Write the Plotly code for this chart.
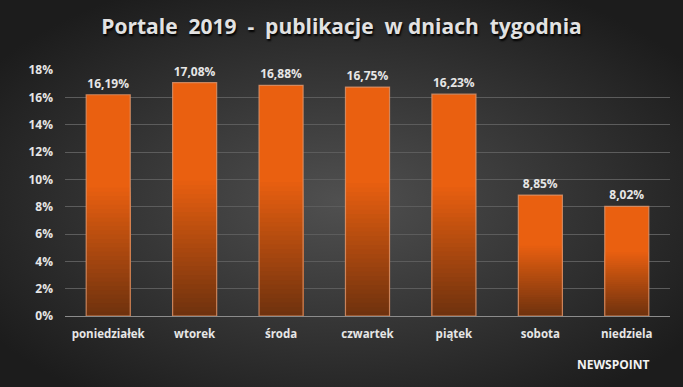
import plotly.graph_objects as go

days = ["poniedziałek", "wtorek", "środa", "czwartek", "piątek", "sobota", "niedziela"]
shares = [16.19, 17.08, 16.88, 16.75, 16.23, 8.85, 8.02]
labels = ["16,19%", "17,08%", "16,88%", "16,75%", "16,23%", "8,85%", "8,02%"]
yticks = [0, 2, 4, 6, 8, 10, 12, 14, 16, 18]
yticklabels = [f"{t}%" for t in yticks]

TOP = (234, 96, 16)
BOT = (112, 50, 14)

def mix(a, b, t):
    return "rgb(%d,%d,%d)" % tuple(round(a[i] + (b[i] - a[i]) * t) for i in range(3))

fig = go.Figure()
fig.add_trace(go.Bar(x=days, y=shares, marker=dict(color=mix(TOP, BOT, 0), line=dict(width=0)),
                     hoverinfo="skip", showlegend=False))
N = 30
START = 0.6
for i in range(1, N + 1):
    frac = START * (1 - i / (N + 1))
    t = i / N
    fig.add_trace(go.Bar(x=days, y=[v * frac for v in shares],
                         marker=dict(color=mix(TOP, BOT, t), line=dict(width=0)),
                         hoverinfo="skip", showlegend=False))
fig.add_trace(go.Bar(x=days, y=shares, text=labels, textposition="outside",
                     textfont=dict(color="#e6e6e6", size=12, family="Open Sans", weight="bold"),
                     cliponaxis=False,
                     marker=dict(color="rgba(0,0,0,0)", line=dict(color="rgba(220,150,110,0.8)", width=1.2)),
                     showlegend=False))

bg_svg = ("data:image/svg+xml;utf8,<svg xmlns='http://www.w3.org/2000/svg' width='683' height='387'>"
          "<defs><radialGradient id='g' cx='50%25' cy='52%25' r='62%25'>"
          "<stop offset='0' stop-color='%23505050'/><stop offset='1' stop-color='%231c1c1c'/>"
          "</radialGradient></defs><rect width='683' height='387' fill='url(%23g)'/></svg>")

fig.update_layout(
    width=683, height=387,
    margin=dict(l=65, r=13, t=70, b=71, autoexpand=False),
    paper_bgcolor="#2a2a2a", plot_bgcolor="rgba(0,0,0,0)",
    barmode="overlay", bargap=0.49,
    title=dict(text="Portale  2019  -  publikacje  w dniach  tygodnia", x=0.5, xanchor="center",
               y=1 - 27 / 387, yanchor="middle", yref="container",
               font=dict(family="Open Sans", size=21, color="#e2e2e2", weight="bold",
                         shadow="1px 2px 2px #000")),
    images=[dict(source=bg_svg, xref="paper", yref="paper",
                 x=-65/605, y=1 + 70/246, sizex=683/605, sizey=387/246,
                 xanchor="left", yanchor="top", layer="below", sizing="stretch")],
    font=dict(family="Open Sans", color="#e6e6e6"),
)
fig.update_xaxes(showgrid=False, showline=True, linecolor="#8c8c8c", linewidth=1, automargin=False,
                 tickfont=dict(size=11.5, color="#e6e6e6", weight="bold"), ticks="",
                 ticklabelstandoff=7)
fig.update_yaxes(range=[0, 18], tickvals=yticks, ticktext=yticklabels, showgrid=True, automargin=False,
                 gridcolor="#5c5c5c", gridwidth=1, zeroline=False, showline=False,
                 tickfont=dict(size=12, color="#e6e6e6", weight="bold"), ticks="",
                 ticklabelstandoff=11)
fig.add_annotation(text="NEWSPOINT", xref="paper", yref="paper", x=(652 - 65) / 605, y=-(364 - 316) / 246,
                   xanchor="right", yanchor="middle", showarrow=False,
                   font=dict(family="Open Sans", size=12, color="#f2f2f2", weight="bold"))
fig.write_html("out.html", config={"displayModeBar": False},
               post_script="document.body.style.margin='0';document.body.style.overflow='hidden';")
